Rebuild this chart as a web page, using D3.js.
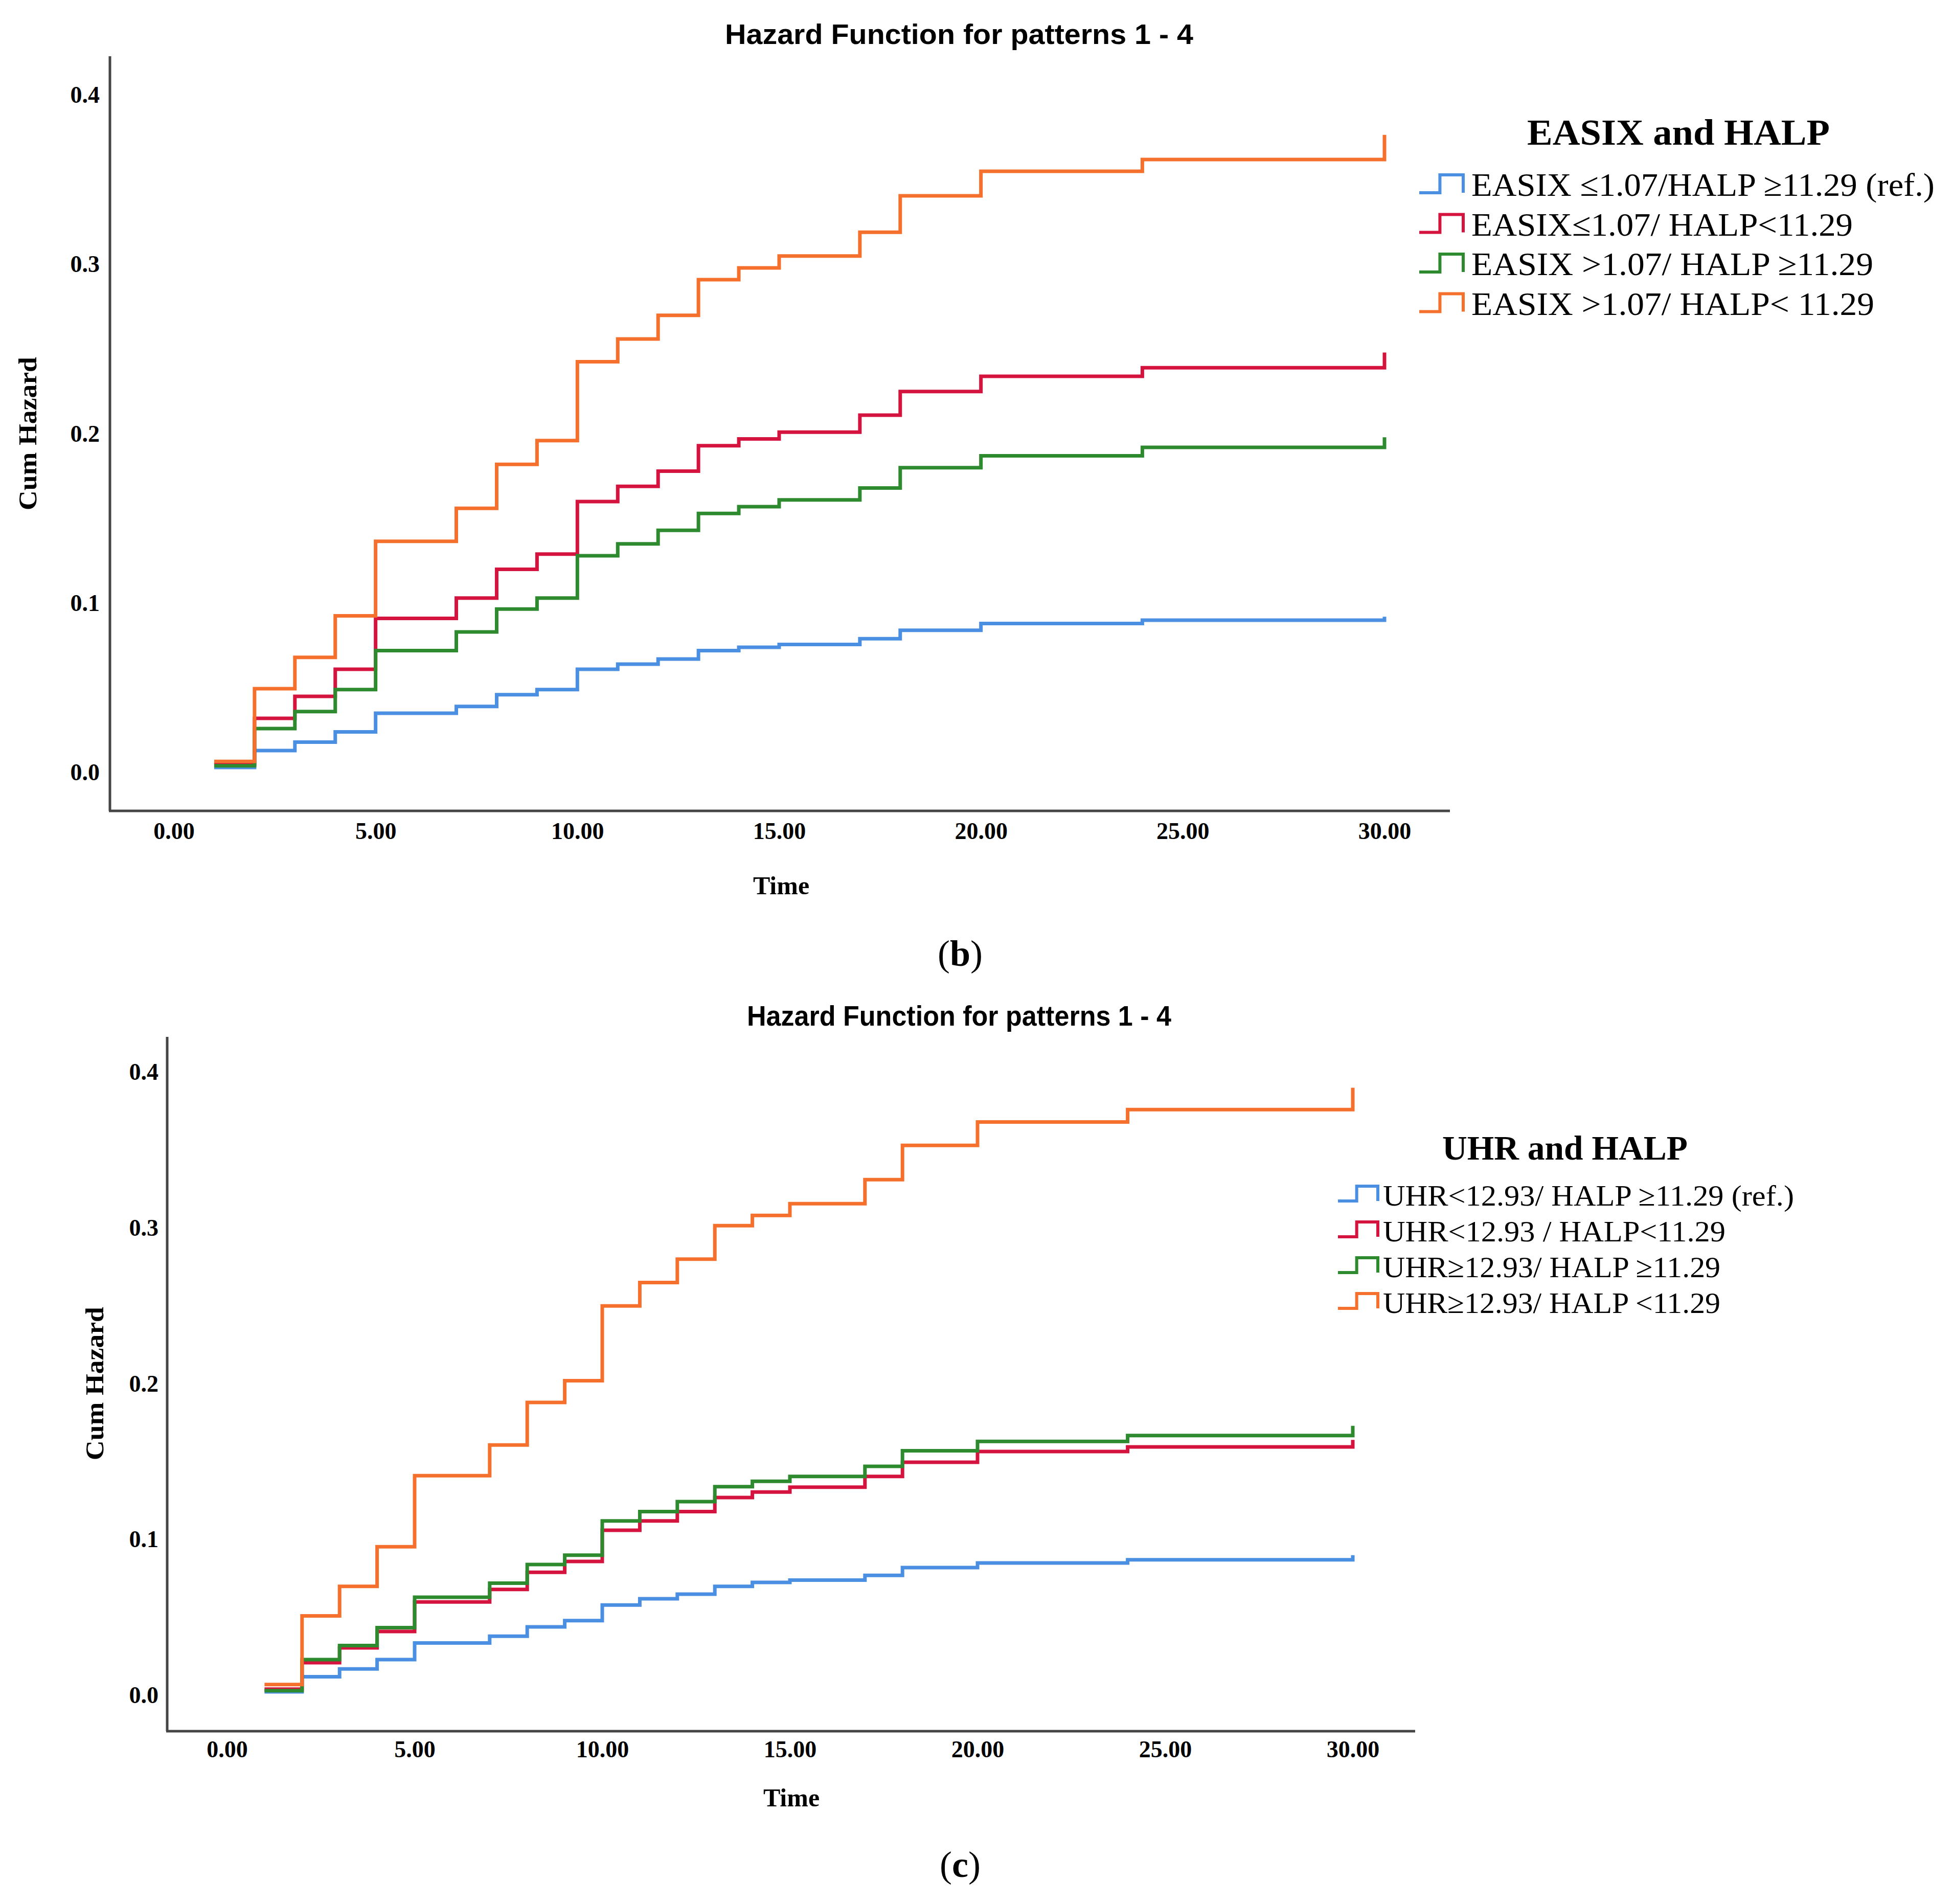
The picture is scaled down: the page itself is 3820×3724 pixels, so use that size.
<!DOCTYPE html>
<html>
<head>
<meta charset="utf-8">
<script src="https://cdn.jsdelivr.net/npm/d3@7/dist/d3.min.js"></script>
<style>
html,body{margin:0;padding:0;background:#fff;}
svg{display:block;}
</style>
</head>
<body>
<svg id="chart" width="3820" height="3724"></svg>
<script>
// ---------- DATA ----------
const times = [1,2,3,4,5,7,8,9,10,11,12,13,14,15,17,18,20,24,30];
const xTicks = [0,5,10,15,20,25,30];
const yTicks = [0,0.1,0.2,0.3,0.4];

// Panel (b): EASIX and HALP
const bTitle = "Hazard Function for patterns 1 - 4";
const bLegendTitle = "EASIX and HALP";
const bLabels = ["EASIX \u22641.07/HALP \u226511.29 (ref.)","EASIX\u22641.07/ HALP<11.29","EASIX >1.07/ HALP \u226511.29","EASIX >1.07/ HALP< 11.29"];
const bBlue   = [0.003,0.013,0.018,0.024,0.035,0.039,0.046,0.049,0.061,0.064,0.067,0.072,0.074,0.0756,0.079,0.084,0.088,0.090,0.092];
const bRed    = [0.005,0.032,0.045,0.061,0.091,0.103,0.120,0.129,0.160,0.169,0.178,0.193,0.197,0.201,0.211,0.225,0.234,0.239,0.248];
const bGreen  = [0.004,0.026,0.036,0.049,0.072,0.083,0.0965,0.103,0.128,0.135,0.143,0.153,0.157,0.161,0.168,0.180,0.187,0.192,0.198];
const bOrange = [0.0066,0.0495,0.068,0.0925,0.1365,0.156,0.182,0.196,0.2426,0.256,0.270,0.291,0.298,0.305,0.319,0.3405,0.355,0.362,0.3765];

// Panel (c): UHR and HALP
const cTitle = "Hazard Function for patterns 1 - 4";
const cLegendTitle = "UHR and HALP";
const cLabels = ["UHR<12.93/ HALP \u226511.29 (ref.)","UHR<12.93 / HALP<11.29","UHR\u226512.93/ HALP \u226511.29","UHR\u226512.93/ HALP <11.29"];
const cBlue   = [0.0023,0.012,0.017,0.023,0.0336,0.038,0.044,0.048,0.058,0.062,0.065,0.070,0.0725,0.074,0.077,0.082,0.085,0.087,0.090];
const cRed    = [0.004,0.021,0.0305,0.041,0.060,0.068,0.079,0.086,0.106,0.112,0.118,0.127,0.1305,0.1336,0.1405,0.1496,0.1565,0.1595,0.164];
const cGreen  = [0.003,0.023,0.032,0.0435,0.063,0.072,0.084,0.090,0.112,0.118,0.1244,0.134,0.1374,0.1405,0.147,0.157,0.163,0.1668,0.173];
const cOrange = [0.007,0.051,0.070,0.0954,0.141,0.1607,0.188,0.202,0.250,0.265,0.280,0.3015,0.308,0.3156,0.331,0.353,0.368,0.376,0.390];

const colors = ["#4a8fe2","#d5133f","#2e8a2e","#f4702c"];

// ---------- DRAW ----------
const svg = d3.select("#chart");
svg.append("rect").attr("width",3820).attr("height",3724).attr("fill","#fff");

function panel(cfg){
  const g = svg.append("g");
  const x = d3.scaleLinear().domain([0,30]).range([cfg.x0, cfg.x30]);
  const y = d3.scaleLinear().domain([0,0.4]).range([cfg.y0, cfg.y4]);

  // title
  g.append("text").attr("x",cfg.titleX).attr("y",cfg.titleY)
    .attr("text-anchor","middle").attr("dominant-baseline","central")
    .attr("font-family","Liberation Sans, Arial, sans-serif")
    .attr("font-size",cfg.titleSize).attr("font-weight","bold")
    .attr("textLength",cfg.titleLen).attr("lengthAdjust","spacingAndGlyphs")
    .text(cfg.title);

  // axes lines
  g.append("line").attr("x1",cfg.axL).attr("x2",cfg.axL).attr("y1",cfg.axTop).attr("y2",cfg.axB)
    .attr("stroke","#444").attr("stroke-width",5);
  g.append("line").attr("x1",cfg.axL-2).attr("x2",cfg.axR).attr("y1",cfg.axB).attr("y2",cfg.axB)
    .attr("stroke","#444").attr("stroke-width",5);

  // y axis labels
  const ya = d3.axisLeft(y).tickValues(yTicks).tickFormat(d3.format(".1f")).tickSize(0).tickPadding(0);
  const yg = g.append("g").attr("transform",`translate(${cfg.yLabR},0)`).call(ya);
  yg.select(".domain").remove();
  yg.selectAll("text").attr("font-family","Liberation Serif, Times New Roman, serif")
    .attr("font-weight","bold").attr("font-size",46).attr("fill","#000");

  // x axis labels
  const xa = d3.axisBottom(x).tickValues(xTicks).tickFormat(d3.format(".2f")).tickSize(0).tickPadding(0);
  const xg = g.append("g").attr("transform",`translate(0,${cfg.xLabY})`).call(xa);
  xg.select(".domain").remove();
  xg.selectAll("text").attr("dy","0.35em").attr("y",0).attr("font-family","Liberation Serif, Times New Roman, serif")
    .attr("font-weight","bold").attr("font-size",46).attr("fill","#000");

  // axis titles
  g.append("text").attr("x",cfg.timeX).attr("y",cfg.timeY).attr("text-anchor","middle")
    .attr("dominant-baseline","central")
    .attr("font-family","Liberation Serif, Times New Roman, serif").attr("font-weight","bold")
    .attr("font-size",50).text("Time");
  g.append("text").attr("transform",`translate(${cfg.cumX},${cfg.cumY}) rotate(-90)`)
    .attr("text-anchor","middle").attr("dominant-baseline","central")
    .attr("font-family","Liberation Serif, Times New Roman, serif").attr("font-weight","bold")
    .attr("font-size",50).attr("textLength",300).attr("lengthAdjust","spacingAndGlyphs").text("Cum Hazard");

  // lines
  const line = d3.line().x(d=>x(d[0])).y(d=>y(d[1])).curve(d3.curveStepAfter);
  cfg.series.forEach((vals,i)=>{
    const pts = times.map((t,j)=>[t,vals[j]]);
    g.append("path").attr("d",line(pts)).attr("fill","none")
      .attr("stroke",colors[i]).attr("stroke-width",7).attr("stroke-linejoin","miter").attr("stroke-linecap","butt");
  });

  // legend
  g.append("text").attr("x",cfg.legTitleX).attr("y",cfg.legTitleY).attr("text-anchor","middle")
    .attr("font-family","Liberation Serif, Times New Roman, serif").attr("font-weight","bold")
    .attr("font-size",cfg.legTitleSize).attr("textLength",cfg.legTitleLen).attr("lengthAdjust","spacingAndGlyphs")
    .text(cfg.legTitle);
  cfg.labels.forEach((lab,i)=>{
    const by = cfg.legY0 + i*cfg.legStep;
    const sx = cfg.symX, sw = cfg.symW, sh = cfg.symH;
    g.append("path").attr("d",`M${sx},${by} H${sx+sw*0.47} V${by-sh} H${sx+sw} V${by}`)
      .attr("fill","none").attr("stroke",colors[i]).attr("stroke-width",6);
    g.append("text").attr("x",cfg.legTextX).attr("y",by+cfg.legBaseOff)
      .attr("font-family","Liberation Serif, Times New Roman, serif")
      .attr("font-size",cfg.legSize).attr("textLength",cfg.legLens[i]).attr("lengthAdjust","spacingAndGlyphs")
      .text(lab);
  });

  // panel letter
  const pl = g.append("text").attr("x",cfg.letX).attr("y",cfg.letY).attr("text-anchor","middle")
    .attr("dominant-baseline","central")
    .attr("font-family","Liberation Serif, Times New Roman, serif").attr("font-size",72);
  pl.append("tspan").text("(");
  pl.append("tspan").attr("font-weight","bold").text(cfg.letter);
  pl.append("tspan").text(")");
}

panel({
  title:bTitle, titleX:1876, titleY:66, titleSize:56, titleLen:916,
  x0:340, x30:2708, y0:1511, y4:186,
  axL:215, axTop:110, axB:1586, axR:2836,
  yLabR:195, xLabY:1625,
  timeX:1528, timeY:1732, cumX:54, cumY:848,
  series:[bBlue,bRed,bGreen,bOrange],
  legTitle:bLegendTitle, legTitleX:3283, legTitleY:283, legTitleSize:72, legTitleLen:592,
  labels:bLabels, legY0:377, legStep:77.5, symX:2776, symW:86, symH:35,
  legTextX:2878, legBaseOff:6, legSize:64, legLens:[906,746,786,788],
  letX:1878, letY:1865, letter:"b"
});

panel({
  title:cTitle, titleX:1876, titleY:1986, titleSize:56, titleLen:830,
  x0:444, x30:2646, y0:3316, y4:2097,
  axL:327, axTop:2028, axB:3386, axR:2768,
  yLabR:310, xLabY:3421,
  timeX:1548, timeY:3516, cumX:185, cumY:2706,
  series:[cBlue,cRed,cGreen,cOrange],
  legTitle:cLegendTitle, legTitleX:3061, legTitleY:2268, legTitleSize:68, legTitleLen:480,
  labels:cLabels, legY0:2349, legStep:70, symX:2617, symW:78, symH:29,
  legTextX:2705, legBaseOff:9, legSize:58, legLens:[804,670,660,660],
  letX:1878, letY:3647, letter:"c"
});
</script>
</body>
</html>
